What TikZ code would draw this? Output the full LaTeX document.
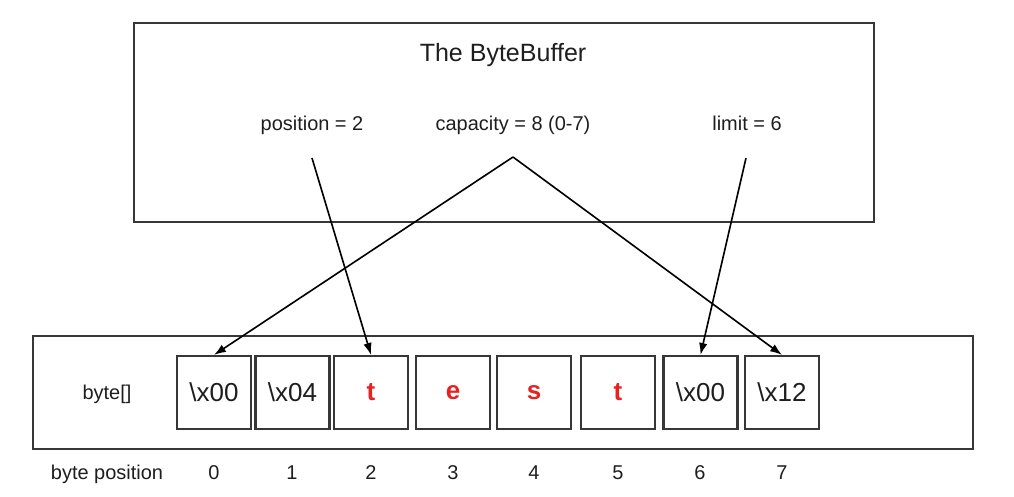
\documentclass[tikz,border=0pt]{standalone}
\usepackage{fontspec}
\setmainfont{Liberation Sans}
\usepackage{tikz}
\usetikzlibrary{arrows.meta}
\definecolor{bytered}{RGB}{228,35,35}
\definecolor{boxgray}{RGB}{55,55,55}
\definecolor{textgray}{RGB}{30,30,30}

\begin{document}
\begin{tikzpicture}[x=0.025cm,y=-0.025cm,
    ptr/.style={draw=black,line width=1.15pt,-{Latex[length=8.5pt,width=6pt]}}]
\useasboundingbox (0,0) rectangle (1014,496);

\node (buf)[draw=boxgray,line width=1.5pt,minimum width=18.5cm,minimum height=4.975cm] at (504,122.5) {};
\node (arr)[draw=boxgray,line width=1.5pt,minimum width=23.5cm,minimum height=2.825cm] at (503,392.5) {};

\begin{scope}[every node/.style={text=textgray,text height=0.72em,text depth=0.21em,
              font=\fontsize{14.2}{17}\selectfont}]
    \node (title)[font=\fontsize{17.8}{21}\selectfont] at (503,58) {The ByteBuffer};
    \node (pos) at (312,127) {position = 2};
    \node (cap) at (513,127) {capacity = 8 (0-7)};
    \node (lim) at (747,127) {limit = 6};
    \node (bytes) at (107,396) {byte[]};
    \node (bpos) at (107,476) {byte position};
    \node (n0) at (214,476) {0};
    \node (n1) at (292,476) {1};
    \node (n2) at (371,476) {2};
    \node (n3) at (453,476) {3};
    \node (n4) at (534,476) {4};
    \node (n5) at (618,476) {5};
    \node (n6) at (700,476) {6};
    \node (n7) at (782,476) {7};
\end{scope}

\begin{scope}[every node/.style={draw=boxgray,line width=1.5pt,text=textgray,
              minimum width=1.85cm,minimum height=1.825cm,inner sep=0pt,
              font=\fontsize{18.5}{22}\selectfont}]
    \node (c0) at (214,392.5) {\textbackslash x00};
    \node (c1) at (292.5,392.5) {\textbackslash x04};
    \node (c2)[text=bytered,font=\bfseries\fontsize{18.5}{22}\selectfont] at (371,392.5) {t};
    \node (c3)[text=bytered,font=\bfseries\fontsize{18.5}{22}\selectfont] at (453,392.5) {e};
    \node (c4)[text=bytered,font=\bfseries\fontsize{18.5}{22}\selectfont] at (534,392.5) {s};
    \node (c5)[text=bytered,font=\bfseries\fontsize{18.5}{22}\selectfont] at (618,392.5) {t};
    \node (c6) at (700.5,392.5) {\textbackslash x00};
    \node (c7) at (782,392.5) {\textbackslash x12};
\end{scope}

\coordinate (posfoot) at (312,158);
\coordinate (capfoot) at (513,157);
\coordinate (limfoot) at (746,158);

\draw[ptr] (posfoot) -- (c2.north);
\draw[ptr] (capfoot) -- (c0.north);
\draw[ptr] (capfoot) -- (c7.north);
\draw[ptr] (limfoot) -- (c6.north);
\end{tikzpicture}
\end{document}
